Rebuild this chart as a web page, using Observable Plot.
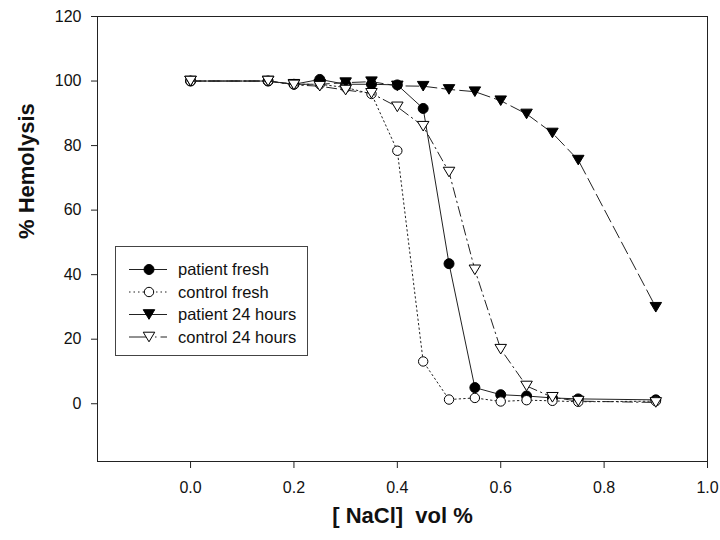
<!DOCTYPE html>
<html>
<head>
<meta charset="utf-8">
<script src="https://cdn.jsdelivr.net/npm/d3@7"></script>
<script src="https://cdn.jsdelivr.net/npm/@observablehq/plot@0.6"></script>
<style>
  html, body { margin: 0; padding: 0; background: #fff; }
  #wrap { position: relative; width: 720px; height: 540px; }
  #legend { position: absolute; left: 0; top: 0; }
  text { font-family: Arial, "Liberation Sans", sans-serif; white-space: pre; }
</style>
</head>
<body>
<div id="wrap"></div>
<script>
// ---- data ----
const nacl = [0, 0.15, 0.2, 0.25, 0.3, 0.35, 0.4, 0.45, 0.5, 0.55, 0.6, 0.65, 0.7, 0.75, 0.9];
const patientFresh = [100, 100, 99, 100.5, 99, 99, 98.8, 91.5, 43.4, 5, 2.8, 2.4, 1.8, 1.5, 1.2];
const controlFresh = [100, 100, 99, 99, 98, 96, 78.4, 13.1, 1.3, 1.8, 0.7, 1.1, 0.9, 0.6, 0.8];
const patient24h = [100, 100, 99, 99, 99.5, 99.8, 98.5, 98.4, 97.4, 96.7, 93.9, 89.8, 83.9, 75.5, 29.9];
const control24h = [100, 100, 98.8, 98.4, 97.2, 96.2, 92, 86, 71.8, 41.5, 16.9, 5.5, 2, 0.8, 0.4];
const seriesNames = ["patient fresh", "control fresh", "patient 24 hours", "control 24 hours"];
const xTicks = [0, 0.2, 0.4, 0.6, 0.8, 1.0];
const yTicks = [0, 20, 40, 60, 80, 100, 120];
const xLabel = "[ NaCl]  vol %";
const yLabel = "% Hemolysis";

// down-pointing triangle symbol centered on its bounding box
const triangleDown = {
  draw(context, size) {
    const r = Math.sqrt(size / Math.PI);
    context.moveTo(-1.2 * r, -r);
    context.lineTo(1.2 * r, -r);
    context.lineTo(0, r);
    context.closePath();
  }
};

const styles = [
  {values: patientFresh, dash: null, symbol: "circle", fill: "black", r: 5},
  {values: controlFresh, dash: "1.5,3", symbol: "circle", fill: "white", r: 4.7},
  {values: patient24h, dash: "13,5", symbol: triangleDown, fill: "black", r: 4.8},
  {values: control24h, dash: "10,4,1.5,4", symbol: triangleDown, fill: "white", r: 4.8}
];

const series = styles.map((s, i) => nacl.map((x, j) => ({x, y: s.values[j], name: seriesNames[i]})));

const marks = [
  Plot.frame({stroke: "#222", strokeWidth: 1}),
  Plot.axisX({ticks: xTicks, tickFormat: d3.format(".1f"), tickSize: 7, tickPadding: 13, fontSize: 16, label: null, fill: "#111", stroke: "#222"}),
  Plot.axisY({ticks: yTicks, tickSize: 6, tickPadding: 10, fontSize: 16, label: null, fill: "#111", stroke: "#222"}),
  Plot.text([yLabel], {frameAnchor: "left", rotate: -90, dx: -71, fontSize: 22, fontWeight: "bold", fill: "#111"}),
  Plot.text([xLabel], {frameAnchor: "bottom", dy: 61, fontSize: 22, fontWeight: "bold", fill: "#111"})
];
styles.forEach((s, i) => {
  marks.push(Plot.line(series[i], {x: "x", y: "y", stroke: "#222", strokeWidth: 1, strokeDasharray: s.dash}));
  marks.push(Plot.dot(series[i], {x: "x", y: "y", symbol: () => s.symbol, r: s.r, fill: s.fill, stroke: "black", strokeWidth: 1}));
});

const chart = Plot.plot({
  width: 720,
  height: 540,
  marginLeft: 97,
  marginRight: 13,
  marginTop: 16,
  marginBottom: 79,
  style: {fontFamily: "Arial, 'Liberation Sans', sans-serif", background: "white"},
  x: {domain: [-0.18, 1.0]},
  y: {domain: [-17.9, 120]},
  symbol: {type: "identity"},
  marks
});
const wrap = document.getElementById("wrap");
wrap.appendChild(chart);

// ---- legend (inside plot area) ----
const lg = d3.select(wrap).append("svg").attr("id", "legend").attr("width", 720).attr("height", 540);
lg.append("rect").attr("x", 115.5).attr("y", 246.5).attr("width", 192).attr("height", 109)
  .attr("fill", "white").attr("stroke", "#444").attr("stroke-width", 1);
styles.forEach((s, i) => {
  const cy = 269.5 + i * 22.5;
  lg.append("line").attr("x1", 129).attr("x2", 167).attr("y1", cy).attr("y2", cy)
    .attr("stroke", "#222").attr("stroke-width", 1)
    .attr("stroke-dasharray", i === 1 ? "1.5,3" : i === 3 ? "22,4,1.5,4" : null);
  const sym = s.symbol === "circle" ? d3.symbolCircle : s.symbol;
  lg.append("path").attr("d", d3.symbol(sym, Math.PI * s.r * s.r)())
    .attr("transform", `translate(149,${cy})`)
    .attr("fill", s.fill).attr("stroke", "black").attr("stroke-width", 1);
  lg.append("text").attr("x", 178).attr("y", cy).attr("dy", "0.35em")
    .attr("font-size", 16.5).attr("fill", "#111").text(seriesNames[i]);
});
</script>
</body>
</html>
